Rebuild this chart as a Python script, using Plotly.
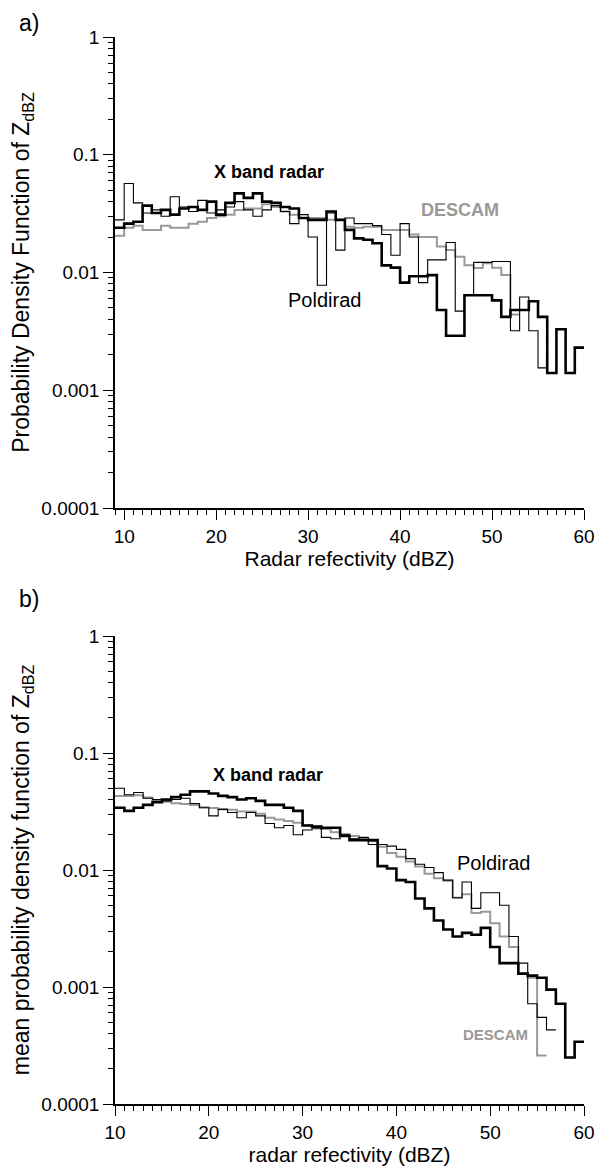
import numpy as np
import plotly.graph_objects as go

# ---------------- data (1 dBZ bins, left edges) ----------------
# Panel a
a_xband_start = 9
a_xband = [0.024, 0.026, 0.027, 0.037, 0.032, 0.034, 0.031, 0.035, 0.036, 0.034,
           0.040, 0.031, 0.039, 0.047, 0.043, 0.047, 0.040, 0.039, 0.036, 0.035,
           0.029, 0.028, 0.028, 0.033, 0.028, 0.023, 0.0195, 0.019, 0.0177, 0.0115,
           0.011, 0.0082, 0.0093, 0.0093, 0.0095, 0.0048, 0.0029, 0.0029, 0.0064, 0.0064,
           0.0064, 0.0058, 0.0042, 0.0048, 0.0048, 0.0057, 0.0042, 0.0014, 0.0033, 0.0014,
           0.0023]
a_pold_start = 9
a_pold = [0.028, 0.057, 0.039, 0.032, 0.034, 0.030, 0.044, 0.036, 0.033, 0.041,
          0.032, 0.034, 0.036, 0.040, 0.034, 0.030, 0.034, 0.037, 0.033, 0.026,
          0.031, 0.020, 0.0078, 0.032, 0.0155, 0.029, 0.026, 0.026, 0.025, 0.021,
          0.014, 0.026, 0.020, 0.0082, 0.0128, 0.0128, 0.018, 0.0047, 0.0064, 0.0122,
          0.0122, 0.0124, 0.0124, 0.0032, 0.0062, 0.0032, 0.00155]
a_desc_start = 9
a_desc = [0.0205, 0.024, 0.025, 0.023, 0.023, 0.025, 0.024, 0.024, 0.026, 0.027,
          0.029, 0.030, 0.031, 0.034, 0.035, 0.035, 0.038, 0.036, 0.033, 0.031,
          0.029, 0.029, 0.029, 0.028, 0.028, 0.0245, 0.024, 0.0245, 0.0245, 0.023,
          0.023, 0.023, 0.021, 0.020, 0.020, 0.0166, 0.0155, 0.0136, 0.0115, 0.0109,
          0.012, 0.011, 0.0095, 0.0044]

# Panel b
b_xband_start = 10
b_xband = [0.034, 0.032, 0.034, 0.036, 0.038, 0.040, 0.042, 0.044, 0.047, 0.047,
           0.045, 0.043, 0.042, 0.040, 0.041, 0.039, 0.036, 0.036, 0.034, 0.032,
           0.024, 0.0235, 0.023, 0.023, 0.0195, 0.018, 0.018, 0.018, 0.0108, 0.0103,
           0.0082, 0.0079, 0.0057, 0.0047, 0.0037, 0.0031, 0.0027, 0.0029, 0.0028, 0.0032,
           0.0022, 0.0016, 0.0016, 0.0013, 0.00125, 0.0012, 0.00095, 0.00072, 0.00025, 0.00034]
b_pold_start = 10
b_pold = [0.050, 0.044, 0.046, 0.041, 0.040, 0.039, 0.040, 0.041, 0.037, 0.034,
          0.029, 0.033, 0.031, 0.028, 0.031, 0.029, 0.025, 0.023, 0.024, 0.020,
          0.022, 0.0225, 0.019, 0.0185, 0.020, 0.0185, 0.019, 0.0165, 0.0165, 0.016,
          0.015, 0.0125, 0.0112, 0.0105, 0.0095, 0.0082, 0.0058, 0.0079, 0.0047, 0.0064,
          0.0064, 0.0050, 0.0027, 0.0016, 0.00072, 0.00055, 0.00043]
b_desc_start = 10
b_desc = [0.043, 0.043, 0.0436, 0.0417, 0.0396, 0.0384, 0.0372, 0.0367, 0.036, 0.0344,
          0.0338, 0.0331, 0.0327, 0.0317, 0.0317, 0.0303, 0.0279, 0.027, 0.0262, 0.0254,
          0.0241, 0.0235, 0.0224, 0.021, 0.0203, 0.0195, 0.0187, 0.0176, 0.0158, 0.014,
          0.013, 0.0118, 0.0107, 0.0093, 0.0085, 0.0081, 0.0058, 0.0062, 0.0043, 0.0044,
          0.0035, 0.0027, 0.0022, 0.0013, 0.0012, 0.00026]

y_tickvals = [0.0001, 0.001, 0.01, 0.1, 1]
y_ticktext = ["0.0001", "0.001", "0.01", "0.1", "1"]
y_minorvals = [m * d for d in [0.0001, 0.001, 0.01, 0.1] for m in range(2, 10)]

FONT = "Liberation Sans, Arial, sans-serif"
GRAY = "#999999"

# the page has an 8px body margin: the figure is 8px smaller so the page fits the window,
# and margins are chosen so the plot areas land where the reference has them
W, H = 602, 1165
L, R, T, B = 98, 26, 29, 69
PW, PH = W - L - R, H - T - B
OFF = 8


def step(start, vals):
    x = list(range(start, start + len(vals) + 1))
    y = list(vals) + [vals[-1]]
    return x, y


fig = go.Figure()

series = [
    (a_desc_start, a_desc, GRAY, 2.0, "x", "y"),
    (a_pold_start, a_pold, "black", 1.1, "x", "y"),
    (a_xband_start, a_xband, "black", 2.6, "x", "y"),
    (b_desc_start, b_desc, GRAY, 2.0, "x2", "y2"),
    (b_pold_start, b_pold, "black", 1.1, "x2", "y2"),
    (b_xband_start, b_xband, "black", 2.6, "x2", "y2"),
]
for start, vals, col, w, xa, ya in series:
    xs, ys = step(start, vals)
    fig.add_trace(go.Scatter(x=xs, y=ys, mode="lines", line=dict(color=col, width=w, shape="hv"),
                             xaxis=xa, yaxis=ya, showlegend=False, hoverinfo="skip"))

axis_common = dict(showline=True, linecolor="black", linewidth=1.5, ticks="outside",
                   tickcolor="black", tickwidth=1.3, showgrid=False, zeroline=False,
                   tickfont=dict(family=FONT, size=19, color="black"))

yax = dict(axis_common, type="log", range=[-4, 0], tickmode="array", tickvals=y_tickvals,
           ticktext=y_ticktext, ticklen=10,
           minor=dict(ticks="outside", ticklen=5, tickcolor="black", tickwidth=1,
                      tickmode="array", tickvals=y_minorvals, showgrid=False),
           title=dict(font=dict(family=FONT, size=23, color="black"), standoff=5))
xax = dict(axis_common, dtick=10, tick0=0, ticklen=10,
           minor=dict(ticks="outside", ticklen=5, tickcolor="black", tickwidth=1, dtick=1, showgrid=False),
           title=dict(font=dict(family=FONT, size=21, color="black"), standoff=4))


def py_to_paper(py):
    # screen pixel y -> paper fraction
    return (OFF + H - B - py) / PH


fig.update_layout(
    width=W, height=H, paper_bgcolor="white", plot_bgcolor="white",
    margin=dict(l=L, r=R, t=T, b=B),
    font=dict(family=FONT, color="black"),
    xaxis=dict(xax, domain=[0, 1], range=[9, 60], anchor="y",
               title=dict(xax["title"], text="Radar refectivity (dBZ)")),
    yaxis=dict(yax, domain=[py_to_paper(508), 1], anchor="x",
               title=dict(yax["title"], text="Probability Density Function of Z<sub>dBZ</sub>")),
    xaxis2=dict(xax, domain=[0, 1], range=[10, 60], anchor="y2",
                title=dict(xax["title"], text="radar refectivity (dBZ)")),
    yaxis2=dict(yax, domain=[0, py_to_paper(636)], anchor="x2",
                title=dict(yax["title"], text="mean probability density function of Z<sub>dBZ</sub>")),
)

ann = [
    dict(text="X band radar", x=25.7, y=np.log10(0.072), xref="x", yref="y",
         size=18, color="black", bold=True),
    dict(text="DESCAM", x=46.5, y=np.log10(0.034), xref="x", yref="y",
         size=18, color=GRAY, bold=True),
    dict(text="Poldirad", x=31.8, y=np.log10(0.0058), xref="x", yref="y",
         size=20, color="black", bold=False),
    dict(text="X band radar", x=26.3, y=np.log10(0.065), xref="x2", yref="y2",
         size=18, color="black", bold=True),
    dict(text="Poldirad", x=50.4, y=np.log10(0.0114), xref="x2", yref="y2",
         size=20, color="black", bold=False),
    dict(text="DESCAM", x=50.6, y=np.log10(0.00039), xref="x2", yref="y2",
         size=15, color=GRAY, bold=True),
]
for a in ann:
    txt = "<b>" + a["text"] + "</b>" if a["bold"] else a["text"]
    fig.add_annotation(text=txt, x=a["x"], y=a["y"], xref=a["xref"], yref=a["yref"],
                       showarrow=False, font=dict(size=a["size"], color=a["color"], family=FONT))

# panel labels, placed by screen pixel (converted to paper coords), top-anchored
for lab, px, py in [("a)", 6, 8), ("b)", 6, 584)]:
    fig.add_annotation(text=lab, x=(px - OFF - L) / PW, y=py_to_paper(py),
                       xref="paper", yref="paper", showarrow=False, xanchor="left", yanchor="top",
                       font=dict(size=23, family=FONT, color="black"))

fig.write_html("out.html")
